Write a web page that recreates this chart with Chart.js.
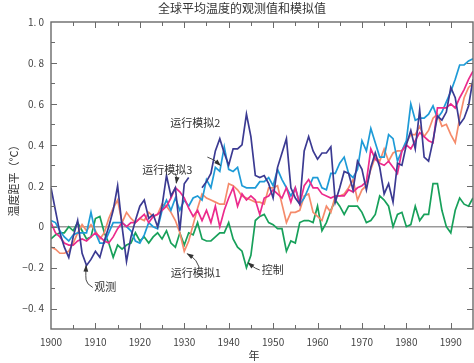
<!DOCTYPE html>
<html>
<head>
<meta charset="utf-8">
<script src="https://cdn.jsdelivr.net/npm/chart.js@4.4.1/dist/chart.umd.min.js"></script>
<style>
  html, body { margin: 0; padding: 0; background: #ffffff; }
  #wrap { width: 474px; height: 363px; }
</style>
</head>
<body>
<div id="wrap"><canvas id="c" width="474" height="363"></canvas></div>
<script>
// ---------------- DATA ----------------
const chartTitle = '全球平均温度的观测值和模拟值';
const xAxisTitle = '年';
const yAxisTitle = '温度距平（°C）';

const years = Array.from({ length: 96 }, (_, i) => 1900 + i); // 1900..1995

// 观测 (dark navy)
const observed = [
  0.19, 0.08, -0.03, -0.10, -0.15, -0.05, 0.03, -0.13, -0.19, -0.16,
  -0.12, -0.15, -0.07, 0.00, 0.08, 0.20, 0.00, -0.17, -0.05, 0.03,
  0.10, 0.13, 0.04, 0.06, 0.00, 0.10, 0.25, 0.15, 0.19, -0.02,
  0.21, 0.24, null, null, 0.19, 0.22, 0.26, 0.37, 0.43, 0.36,
  0.30, 0.38, 0.38, 0.40, 0.55, 0.44, 0.25, 0.24, 0.25, 0.21,
  0.14, 0.29, 0.36, 0.43, 0.19, 0.14, 0.11, 0.37, 0.44, 0.37,
  0.33, 0.36, 0.36, 0.39, 0.12, 0.19, 0.27, 0.26, 0.18, 0.32,
  0.28, 0.18, 0.29, 0.36, 0.29, 0.16, 0.21, 0.12, 0.31, 0.30,
  0.40, 0.47, 0.38, 0.57, 0.34, 0.32, 0.42, 0.54, 0.52, 0.56,
  0.68, 0.63, 0.50, 0.53, 0.59, 0.72
];

// 运行模拟1 (salmon)
const run1 = [
  -0.10, -0.11, -0.13, -0.13, -0.12, -0.08, -0.03, 0.01, -0.02, 0.01,
  -0.02, -0.06, -0.03, 0.04, 0.09, 0.13, 0.02, 0.07, 0.04, 0.02,
  0.04, 0.03, 0.07, 0.05, 0.06, 0.11, 0.10, 0.07, 0.03, -0.03,
  -0.12, -0.07, 0.01, 0.09, 0.16, 0.14, 0.13, 0.12, 0.11, 0.11,
  0.21, 0.20, 0.18, 0.15, 0.14, 0.13, 0.12, 0.12, 0.11, 0.19,
  0.19, 0.20, 0.11, 0.02, 0.07, 0.07, 0.08, 0.15, 0.16, 0.07,
  0.05, 0.03, 0.10, 0.07, 0.15, 0.15, 0.16, 0.19, 0.23, 0.13,
  0.18, 0.20, 0.28, 0.34, 0.32, 0.38, 0.32, 0.36, 0.37, 0.37,
  0.41, 0.45, 0.45, 0.49, 0.44, 0.47, 0.53, 0.55, 0.49, 0.50,
  0.45, 0.41, 0.53, 0.63, 0.68, 0.70
];

// 运行模拟2 (light blue)
const run2 = [
  0.03, 0.02, -0.02, -0.05, -0.07, -0.04, -0.03, -0.03, -0.03, 0.07,
  -0.03, -0.08, -0.08, -0.03, 0.02, 0.02, 0.02, 0.00, -0.02, -0.07,
  -0.08, -0.04, 0.02, 0.00, -0.01, 0.08, 0.13, 0.08, 0.14, 0.08,
  0.13, 0.10, 0.14, 0.15, 0.13, 0.23, 0.19, 0.29, 0.27, 0.39,
  0.28, 0.27, 0.29, 0.20, 0.19, 0.19, 0.19, 0.22, 0.22, 0.24,
  0.20, 0.28, 0.23, 0.19, 0.15, 0.19, 0.11, 0.14, 0.19, 0.24,
  0.24, 0.19, 0.18, 0.26, 0.26, 0.31, 0.34, 0.26, 0.24, 0.28,
  0.42, 0.37, 0.48, 0.41, 0.34, 0.34, 0.45, 0.43, 0.32, 0.37,
  0.42, 0.60, 0.52, 0.53, 0.53, 0.55, 0.59, 0.53, 0.56, 0.61,
  0.66, 0.72, 0.79, 0.79, 0.81, 0.82
];

// 运行模拟3 (magenta)
const run3 = [
  0.02, -0.03, -0.05, -0.08, -0.09, -0.09, -0.07, -0.06, -0.07, -0.05,
  -0.03, -0.05, -0.07, -0.08, -0.05, -0.01, 0.02, 0.00, 0.02, 0.02,
  0.04, 0.06, 0.02, 0.05, 0.06, 0.08, 0.10, 0.14, 0.19, 0.17,
  0.14, 0.09, 0.05, 0.08, 0.03, 0.08, 0.02, 0.10, 0.00, 0.08,
  0.14, 0.19, 0.10, 0.16, 0.13, 0.15, 0.13, 0.06, 0.14, 0.15,
  0.18, 0.16, 0.14, 0.19, 0.12, 0.19, 0.11, 0.20, 0.23, 0.19,
  0.19, 0.16, 0.15, 0.14, 0.15, 0.15, 0.15, 0.18, 0.17, 0.19,
  0.20, 0.22, 0.38, 0.33, 0.31, 0.30, 0.32, 0.29, 0.26, 0.37,
  0.40, 0.38, 0.42, 0.46, 0.44, 0.42, 0.41, 0.58, 0.58, 0.58,
  0.60, 0.58, 0.63, 0.67, 0.72, 0.76
];

// 控制 (green)
const control = [
  -0.06, -0.04, -0.03, -0.03, 0.00, -0.02, 0.02, -0.02, -0.06, -0.05,
  0.04, 0.05, -0.03, -0.08, -0.15, -0.09, -0.11, -0.09, -0.08, -0.03,
  -0.07, -0.05, -0.08, -0.05, -0.03, -0.06, -0.02, -0.08, -0.10, -0.03,
  -0.09, -0.03, -0.04, 0.02, -0.06, -0.07, -0.07, -0.05, -0.03, -0.03,
  0.02, -0.06, -0.10, -0.12, -0.20, -0.14, 0.03, 0.05, 0.06, 0.02,
  0.01, -0.01, -0.01, -0.12, -0.07, -0.08, 0.02, 0.03, 0.03, 0.02,
  0.10, -0.02, 0.02, 0.08, 0.13, 0.10, 0.06, 0.10, 0.10, 0.10,
  0.07, 0.02, 0.03, 0.06, 0.15, 0.13, 0.10, 0.00, 0.06, 0.07,
  0.00, 0.01, 0.10, 0.03, 0.06, 0.06, 0.21, 0.21, 0.08, 0.00,
  -0.03, 0.08, 0.14, 0.11, 0.10, 0.14
];

const xTickYears = [1900, 1910, 1920, 1930, 1940, 1950, 1960, 1970, 1980, 1990];
const yTickValues = [-0.4, -0.2, 0, 0.2, 0.4, 0.6, 0.8, 1.0];

// Callout labels (data coordinates: year, value) and arrow paths
const notes = [
  { text: '运行模拟2', at: [1932.5, 0.505], arrow: [[1935.2, 0.34], [1936.7, 0.328], [1938.1, 0.30]] },
  { text: '运行模拟3', at: [1926.2, 0.28],  arrow: [[1927.9, 0.262], [1928.4, 0.242], [1928.2, 0.213]] },
  { text: '运行模拟1', at: [1932.6, -0.226], arrow: [[1933.4, -0.20], [1932.7, -0.16], [1930.7, -0.133]] },
  { text: '控制',     at: [1949.9, -0.21],  arrow: [[1947.0, -0.212], [1946.0, -0.205], [1944.4, -0.177]] },
  { text: '观测',     at: [1912.2, -0.295], arrow: [[1909.4, -0.297], [1908.0, -0.28], [1907.8, -0.24], [1907.9, -0.19]] }
];

// ---------------- CHART ----------------
const FONT = '"Noto Sans CJK SC", "Noto Sans", sans-serif';
const toXY = arr => arr.map((v, i) => ({ x: years[i], y: v }));

const fmtY = v => {
  if (Math.abs(v) < 1e-9) return '0';
  const s = Math.abs(v).toFixed(1).replace('.', '. ');
  return (v < 0 ? '\u2212' : '') + s;
};

const framePlugin = {
  id: 'framePlugin',
  beforeDatasetsDraw(chart) {
    const { ctx, chartArea: a, scales: { y } } = chart;
    const y0 = y.getPixelForValue(0);
    ctx.save();
    ctx.strokeStyle = '#9a9a9a';
    ctx.lineWidth = 1.5;
    ctx.beginPath();
    ctx.moveTo(a.left, y0);
    ctx.lineTo(a.right, y0);
    ctx.stroke();
    ctx.restore();
  },
  afterDatasetsDraw(chart) {
    const { ctx, chartArea: a, scales: { x, y } } = chart;
    ctx.save();
    ctx.strokeStyle = '#6a6a6a';
    ctx.lineWidth = 1.4;
    ctx.strokeRect(a.left, a.top, a.right - a.left, a.bottom - a.top);
    ctx.lineWidth = 1;
    ctx.beginPath();
    // x ticks (every 5 years), inward on bottom and top
    for (let yr = 1905; yr < 1995; yr += 5) {
      const px = Math.round(x.getPixelForValue(yr)) + 0.5;
      const len = yr % 10 === 0 ? 6 : 4;
      ctx.moveTo(px, a.bottom); ctx.lineTo(px, a.bottom - len);
      ctx.moveTo(px, a.top); ctx.lineTo(px, a.top + len);
    }
    // y ticks (every 0.1), inward on left and right
    for (let k = -4; k <= 9; k++) {
      const v = k / 10;
      const py = Math.round(y.getPixelForValue(v)) + 0.5;
      const len = k % 2 === 0 ? 6 : 4;
      ctx.moveTo(a.left, py); ctx.lineTo(a.left + len, py);
      ctx.moveTo(a.right, py); ctx.lineTo(a.right - len, py);
    }
    ctx.stroke();
    ctx.restore();
  },
  afterDraw(chart) {
    const { ctx, chartArea: a, scales: { x, y } } = chart;
    ctx.save();
    ctx.fillStyle = '#333';
    // title
    ctx.font = '12px ' + FONT;
    ctx.textAlign = 'center';
    ctx.textBaseline = 'middle';
    ctx.fillText(chartTitle, 242, 8);
    // x title
    ctx.font = '11px ' + FONT;
    ctx.fillText(xAxisTitle, 254, 356);
    // y title (rotated)
    ctx.save();
    ctx.translate(14, 178);
    ctx.rotate(-Math.PI / 2);
    ctx.fillText(yAxisTitle, 0, 0);
    ctx.restore();
    // notes + arrows
    ctx.font = '11px ' + FONT;
    notes.forEach(n => {
      ctx.fillStyle = '#333';
      ctx.fillText(n.text, x.getPixelForValue(n.at[0]), y.getPixelForValue(n.at[1]));
      const pts = n.arrow.map(p => [x.getPixelForValue(p[0]), y.getPixelForValue(p[1])]);
      ctx.strokeStyle = '#333';
      ctx.lineWidth = 0.9;
      ctx.beginPath();
      ctx.moveTo(pts[0][0], pts[0][1]);
      for (let i = 1; i < pts.length - 1; i++) {
        const mx = (pts[i][0] + pts[i + 1][0]) / 2, my = (pts[i][1] + pts[i + 1][1]) / 2;
        ctx.quadraticCurveTo(pts[i][0], pts[i][1], mx, my);
      }
      const last = pts[pts.length - 1], prev = pts[pts.length - 2];
      ctx.lineTo(last[0], last[1]);
      ctx.stroke();
      // arrowhead
      const ang = Math.atan2(last[1] - prev[1], last[0] - prev[0]);
      const L = 6, W = 2.4;
      ctx.beginPath();
      ctx.moveTo(last[0] + Math.cos(ang) * 1, last[1] + Math.sin(ang) * 1);
      ctx.lineTo(last[0] - Math.cos(ang) * L - Math.sin(ang) * W, last[1] - Math.sin(ang) * L + Math.cos(ang) * W);
      ctx.lineTo(last[0] - Math.cos(ang) * L + Math.sin(ang) * W, last[1] - Math.sin(ang) * L - Math.cos(ang) * W);
      ctx.closePath();
      ctx.fillStyle = '#333';
      ctx.fill();
    });
    ctx.restore();
  }
};

const mk = (label, data, color) => ({
  label, data: toXY(data), borderColor: color, backgroundColor: color,
  borderWidth: 1.7, pointRadius: 0, tension: 0, spanGaps: false, fill: false
});

new Chart(document.getElementById('c'), {
  type: 'line',
  data: {
    datasets: [
      mk('观测', observed, '#3b3a92'),
      mk('运行模拟3', run3, '#ec2a8c'),
      mk('运行模拟2', run2, '#1e9bd7'),
      mk('运行模拟1', run1, '#f58b6b'),
      mk('控制', control, '#17a05a')
    ]
  },
  options: {
    responsive: false,
    devicePixelRatio: 1,
    animation: false,
    events: [],
    layout: { padding: { top: 22, right: 1, left: 0, bottom: 0 } },
    plugins: { legend: { display: false }, title: { display: false }, tooltip: { enabled: false } },
    scales: {
      x: {
        type: 'linear', min: 1900, max: 1995,
        afterBuildTicks: s => { s.ticks = xTickYears.map(v => ({ value: v })); },
        afterFit: s => { s.height = 34; },
        grid: { display: false, drawTicks: false },
        border: { display: false },
        ticks: { color: '#444', padding: 7, maxRotation: 0, autoSkip: false,
                 font: { family: FONT, size: 10 }, callback: v => String(v) }
      },
      y: {
        type: 'linear', min: -0.5, max: 1.0,
        afterBuildTicks: s => { s.ticks = yTickValues.map(v => ({ value: v })); },
        afterFit: s => { s.width = 51; },
        grid: { display: false, drawTicks: false },
        border: { display: false },
        ticks: { color: '#444', padding: 7, autoSkip: false,
                 font: { family: FONT, size: 10 }, callback: v => fmtY(v) }
      }
    }
  },
  plugins: [framePlugin]
});
</script>
</body>
</html>
